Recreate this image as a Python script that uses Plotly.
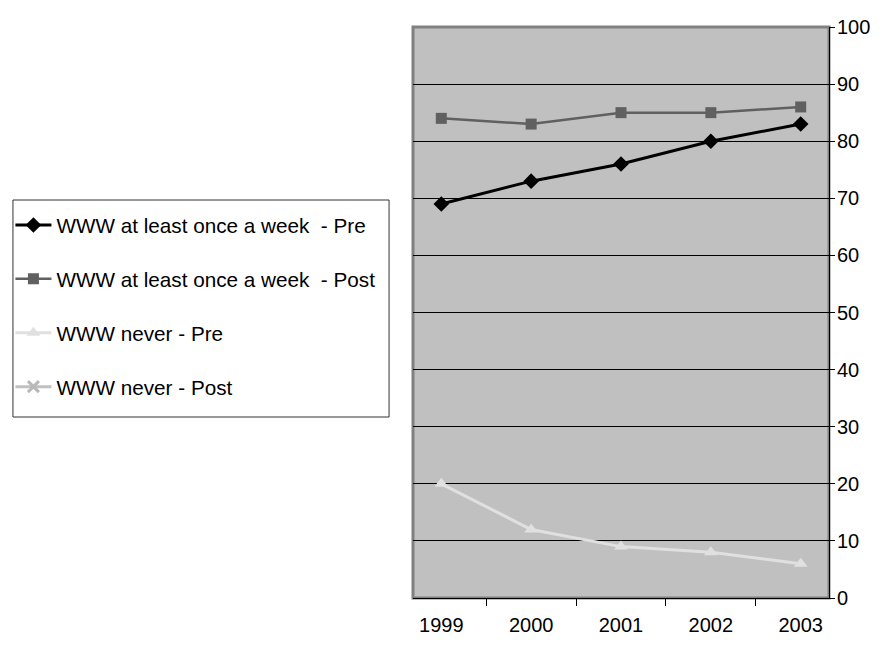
import plotly.graph_objects as go

years = ["1999", "2000", "2001", "2002", "2003"]
pre_week = [69, 73, 76, 80, 83]
post_week = [84, 83, 85, 85, 86]
pre_never = [20, 12, 9, 8, 6]
post_never = [None, None, None, None, None]
y_ticks = [0, 10, 20, 30, 40, 50, 60, 70, 80, 90, 100]

W, H = 887, 651
x0, x1, y0, y1 = 412, 829, 27, 598
pw, ph = x1 - x0, y1 - y0


def px_x(p):
    return (p - x0) / pw


def px_y(p):
    return (y1 - p) / ph


fig = go.Figure()
fig.add_trace(go.Scatter(x=years, y=pre_week, name="WWW at least once a week  - Pre",
                         mode="lines+markers", legendgroup="a",
                         line=dict(color="#000000", width=3),
                         marker=dict(symbol="diamond", size=12, color="#000000")))
fig.add_trace(go.Scatter(x=years, y=post_week, name="WWW at least once a week  - Post",
                         mode="lines+markers", legendgroup="b",
                         line=dict(color="#606060", width=2.5),
                         marker=dict(symbol="square", size=11, color="#606060")))
fig.add_trace(go.Scatter(x=years, y=pre_never, name="WWW never - Pre",
                         mode="lines+markers", legendgroup="c",
                         line=dict(color="#E0E0E0", width=3),
                         marker=dict(symbol="triangle-up", size=12, color="#E0E0E0")))
fig.add_trace(go.Scatter(x=years, y=post_never, name="WWW never - Post",
                         mode="lines+markers", legendgroup="d",
                         line=dict(color="#C0C0C0", width=3),
                         marker=dict(symbol="x-thin", size=11, color="#B8B8B8",
                                     line=dict(color="#B8B8B8", width=3))))

# plot-area border
fig.add_shape(type="rect", xref="paper", yref="paper", x0=0, x1=1, y0=0, y1=1,
              line=dict(color="#808080", width=3), fillcolor="rgba(0,0,0,0)", layer="below")
# legend frame
fig.add_shape(type="rect", xref="paper", yref="paper",
              x0=px_x(11), x1=px_x(388), y0=px_y(417), y1=px_y(200),
              line=dict(color="#333333", width=1), fillcolor="#FFFFFF", layer="below")

fig.update_layout(
    width=W, height=H,
    margin=dict(l=x0, r=W - x1, t=y0, b=H - y1),
    paper_bgcolor="#FFFFFF",
    plot_bgcolor="#C0C0C0",
    font=dict(family="Liberation Sans, Arial", size=20, color="#000000"),
    showlegend=True,
    legend=dict(x=-0.963, xanchor="left", y=px_y(205), yanchor="top",
                borderwidth=0, bgcolor="rgba(0,0,0,0)",
                font=dict(size=20.7), tracegroupgap=24, traceorder="grouped",
                itemwidth=36),
    xaxis=dict(type="category", tickson="boundaries", ticks="outside", ticklen=7,
               tickcolor="#000000", showgrid=False, showline=True, linecolor="#000000",
               linewidth=1, zeroline=False, automargin=False, fixedrange=True,
               ticklabelstandoff=9),
    yaxis=dict(side="right", range=[0, 100], tickvals=y_ticks, ticks="outside", ticklen=5,
               tickcolor="#000000", showgrid=True, gridcolor="#000000", gridwidth=1,
               showline=True, linecolor="#000000", linewidth=1, zeroline=False,
               automargin=False, fixedrange=True, ticklabelstandoff=-2),
)

fig.write_html("out.html")
